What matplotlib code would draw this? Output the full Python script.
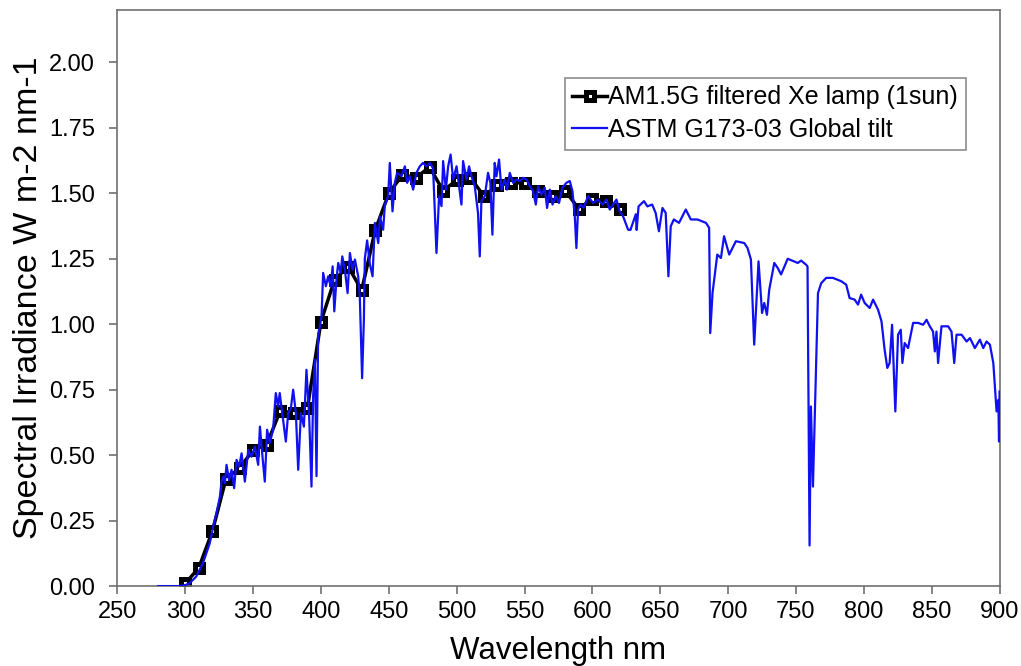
import numpy as np
import matplotlib.pyplot as plt
from matplotlib.ticker import FormatStrFormatter, MultipleLocator

plt.rcParams['font.family'] = ['Liberation Sans', 'DejaVu Sans']

# filtered Xe lamp measurement, every 10 nm
lamp_wl = [300, 310, 320, 330, 340, 350, 360, 370, 380, 390, 400, 410, 420, 430,
           440, 450, 460, 470, 480, 490, 500, 510, 520, 530, 540, 550, 560, 570,
           580, 590, 600, 610, 620]
lamp_irr = [0.01, 0.07, 0.21, 0.41, 0.45, 0.52, 0.54, 0.67, 0.66, 0.68, 1.01, 1.17,
            1.22, 1.13, 1.36, 1.50, 1.57, 1.56, 1.60, 1.51, 1.55, 1.56, 1.49, 1.53,
            1.54, 1.54, 1.51, 1.49, 1.51, 1.44, 1.48, 1.47, 1.44]

# ASTM G173-03 global tilt
astm_wl = [280, 295, 300, 303, 308, 313, 318, 320.6, 323, 325.5, 326.7, 328, 329.2,
           330.4, 332.3, 334.1, 336, 337.8, 339.7, 341.5, 343.9, 346.4, 348.8, 351.3,
           353.7, 355, 357, 358.6, 360.3, 362.3, 364.7, 366.7, 368.4, 369.6, 372.1,
           374.1, 375.8, 377.8, 379.5, 381.5, 383.2, 385.2, 387.4, 389.3, 391.3, 393,
           394.2, 395.5, 396.7, 397.9, 400.4, 401.6, 403.6, 405.3, 407.1, 408.6, 409.8,
           411.5, 412.7, 414.5, 415.7, 417.6, 419.6, 421.3, 423.3, 425, 427.4, 428.6,
           430.3, 431.6, 432.3, 434, 436, 438, 439.7, 442.2, 443.4, 445.8, 447.1, 449.5,
           450.7, 452.7, 454.4, 456.1, 459.3, 461.8, 463.5, 465.4, 467.9, 470.3, 472.8,
           475.2, 477.7, 480.2, 482.6, 485.1, 487, 488.8, 490, 492, 493.7, 495.5, 497.4,
           499.9, 501.8, 503.5, 504.7, 507.2, 509.1, 510.9, 513.3, 515.7, 517, 518.2,
           520.7, 523.1, 524.8, 526.3, 528, 529.3, 531.2, 533, 535.5, 537.1, 539.1,
           541.6, 544.1, 546.5, 549, 551.4, 553.9, 556.3, 558.3, 560, 562.4, 564.9,
           566.6, 568.6, 570.6, 573, 575.4, 577.9, 580.8, 583.3, 585.3, 587, 588.2,
           589.4, 591.2, 593.6, 596.8, 600.5, 604.1, 607.4, 610.3, 612.8, 615.2, 617.7,
           620.1, 622.6, 626.3, 628, 632, 632.6, 634, 638, 640.5, 644, 646.6, 649,
           651.6, 654, 656, 657.7, 660, 663.8, 668.8, 672.5, 677.4, 683.7, 686, 686.8,
           688.5, 692, 694.7, 697, 700.8, 705.7, 711.9, 714.3, 716.8, 719.2, 722.4, 725,
           726.6, 728.6, 730.3, 734, 736.5, 739, 743.9, 751.3, 753.8, 757.5, 758.5, 760,
           761, 762.5, 766.2, 768.6, 772.3, 777.2, 783.4, 787, 789.5, 793.2, 795.7, 798,
           800.6, 804.3, 806.8, 810.5, 813, 815.3, 817.3, 819, 820.8, 823.2, 825.2,
           827.2, 828.4, 830.1, 832.6, 836.3, 840, 843.7, 846.2, 848.6, 851, 852.3,
           853.5, 854.7, 857.2, 862.1, 864.6, 866.6, 868.3, 872, 875.7, 878.2, 881.8,
           885.5, 888, 890.4, 892.9, 895.4, 897.8, 899.1, 899.6, 900]
astm_irr = [0.0, 0.0, 0.004, 0.010, 0.036, 0.087, 0.163, 0.227, 0.278, 0.341, 0.399,
            0.418, 0.393, 0.463, 0.405, 0.444, 0.374, 0.482, 0.456, 0.507, 0.399, 0.520,
            0.494, 0.533, 0.463, 0.609, 0.488, 0.399, 0.597, 0.546, 0.597, 0.737, 0.686,
            0.737, 0.635, 0.552, 0.660, 0.679, 0.750, 0.660, 0.444, 0.660, 0.609, 0.826,
            0.647, 0.380, 0.724, 0.864, 0.420, 0.953, 1.030, 1.196, 1.145, 1.183, 1.145,
            1.221, 1.049, 1.177, 1.234, 1.196, 1.259, 1.208, 1.119, 1.272, 1.208, 1.247,
            1.183, 1.106, 0.794, 1.017, 1.250, 1.320, 1.230, 1.183, 1.387, 1.310, 1.412,
            1.361, 1.457, 1.489, 1.616, 1.431, 1.540, 1.578, 1.565, 1.603, 1.540, 1.565,
            1.514, 1.578, 1.603, 1.616, 1.603, 1.616, 1.595, 1.272, 1.489, 1.451, 1.623,
            1.514, 1.603, 1.648, 1.553, 1.603, 1.527, 1.457, 1.623, 1.553, 1.603, 1.565,
            1.527, 1.425, 1.259, 1.470, 1.489, 1.578, 1.540, 1.342, 1.616, 1.565, 1.629,
            1.514, 1.553, 1.514, 1.578, 1.540, 1.553, 1.547, 1.559, 1.553, 1.527, 1.508,
            1.457, 1.527, 1.495, 1.521, 1.444, 1.514, 1.457, 1.489, 1.463, 1.521, 1.540,
            1.547, 1.508, 1.412, 1.291, 1.438, 1.457, 1.444, 1.489, 1.463, 1.476, 1.457,
            1.476, 1.438, 1.457, 1.476, 1.431, 1.412, 1.361, 1.360, 1.420, 1.360, 1.450,
            1.470, 1.450, 1.457, 1.425, 1.355, 1.444, 1.425, 1.183, 1.374, 1.400, 1.387,
            1.438, 1.400, 1.400, 1.387, 1.368, 0.966, 1.119, 1.266, 1.253, 1.336, 1.266,
            1.317, 1.310, 1.291, 1.247, 0.922, 1.240, 1.043, 1.081, 1.036, 1.132, 1.234,
            1.215, 1.190, 1.250, 1.234, 1.243, 1.227, 1.220, 0.155, 0.686, 0.380, 1.119,
            1.157, 1.177, 1.177, 1.164, 1.151, 1.100, 1.094, 1.075, 1.113, 1.081, 1.062,
            1.094, 1.055, 1.011, 0.903, 0.833, 0.852, 0.998, 0.667, 0.960, 0.979, 0.852,
            0.928, 0.909, 1.005, 1.005, 0.998, 1.017, 0.992, 0.972, 0.896, 0.972, 0.852,
            0.992, 0.992, 0.972, 0.852, 0.960, 0.960, 0.934, 0.947, 0.909, 0.941, 0.909,
            0.934, 0.922, 0.852, 0.667, 0.711, 0.552, 0.743]

fig = plt.figure(figsize=(10.21, 6.66), dpi=100)
ax = fig.add_axes([0.115, 0.12, 0.864, 0.865])

ax.plot(lamp_wl, lamp_irr, color='black', lw=2.5, marker='s', ms=5.5,
        mfc='white', mec='black', mew=3.6, label='AM1.5G filtered Xe lamp (1sun)', zorder=2)
ax.plot(astm_wl, astm_irr, color='#1010f0', lw=1.6,
        label='ASTM G173-03 Global tilt', zorder=3)

ax.set_xlim(250, 900)
ax.set_ylim(0, 2.2)
ax.xaxis.set_major_locator(MultipleLocator(50))
ax.set_yticks(np.arange(0, 2.01, 0.25))
ax.yaxis.set_major_formatter(FormatStrFormatter('%.2f'))
ax.tick_params(direction='out', length=6, width=1.2, color='#707070',
               labelsize=17, pad=5)
ax.tick_params(axis='y', pad=10)
for sp in ax.spines.values():
    sp.set_color('#707070')
    sp.set_linewidth(1.2)

ax.set_xlabel('Wavelength nm', fontsize=22.5, labelpad=9)
ax.set_ylabel('Spectral Irradiance W m-2 nm-1', fontsize=24.5, labelpad=4)

leg = ax.legend(loc='upper right', bbox_to_anchor=(0.9615, 0.882), borderaxespad=0,
                fontsize=18, frameon=True, fancybox=False, handlelength=1.4,
                handletextpad=0.05, borderpad=0.3, labelspacing=0.35)
leg.get_frame().set_edgecolor('#707070')
leg.get_frame().set_linewidth(1.2)

fig.savefig('out.png', dpi=100)
